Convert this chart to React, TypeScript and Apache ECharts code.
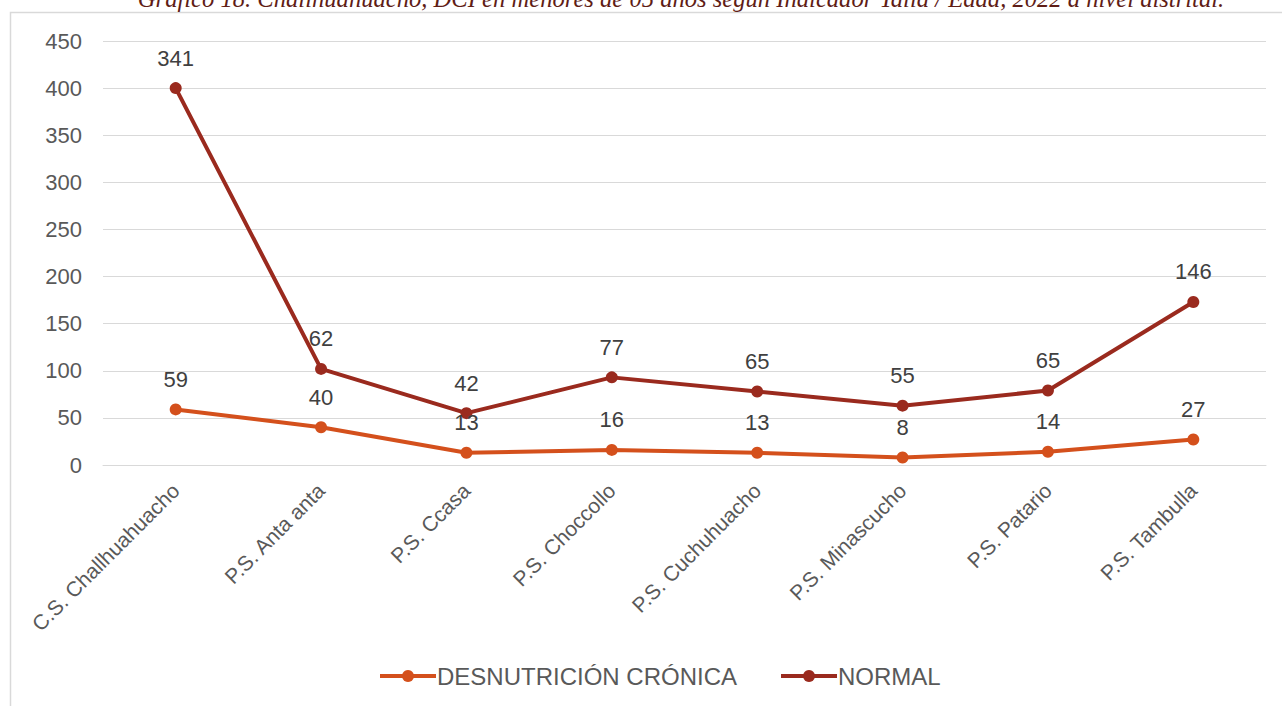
import React, { useEffect, useRef } from "react";
import * as echarts from "echarts";

const categories = [
  "C.S. Challhuahuacho",
  "P.S. Anta anta",
  "P.S. Ccasa",
  "P.S. Choccollo",
  "P.S. Cuchuhuacho",
  "P.S. Minascucho",
  "P.S. Patario",
  "P.S. Tambulla",
];
const desnutricion = [59, 40, 13, 16, 13, 8, 14, 27];
const normal = [341, 62, 42, 77, 65, 55, 65, 146];
const titleText =
  "Gráfico 18. Challhuahuacho, DCI en menores de 05 años según Indicador Talla / Edad, 2022 a nivel distrital.";

export default function App() {
  const ref = useRef<HTMLDivElement>(null);
  useEffect(() => {
    document.body.style.margin = "0";
    const chart = echarts.init(ref.current!, null, { renderer: "svg" });
    const labelStyle = {
      show: true,
      position: "top" as const,
      distance: 13,
      fontSize: 22,
      color: "#404040",
      fontFamily: "Liberation Sans, Arial, sans-serif",
    };
    chart.setOption({
      animation: false,
      textStyle: { fontFamily: "Liberation Sans, Arial, sans-serif" },
      graphic: [
        {
          type: "rect",
          silent: true,
          z: -10,
          shape: { x: 10.5, y: 12.5, width: 1400, height: 900 },
          style: { fill: "none", stroke: "#d9d9d9", lineWidth: 1.5 },
        },
        {
          type: "text",
          x: 681,
          y: 11,
          style: {
            text: titleText,
            fontSize: 24.6,
            fontStyle: "italic",
            fontFamily: "Liberation Serif, serif",
            fill: "#5f1d16",
            textAlign: "center",
            textVerticalAlign: "bottom",
          },
        },
      ],
      grid: { left: 103, right: 16, top: 41, bottom: 241, containLabel: false },
      legend: {
        bottom: 13,
        left: 373,
        itemWidth: 56,
        itemHeight: 15,
        itemGap: 42,
        lineStyle: { width: 4 },
        textStyle: { fontSize: 24, color: "#595959", padding: [0, 0, 0, -4] },
        data: ["DESNUTRICIÓN CRÓNICA", "NORMAL"],
      },
      xAxis: {
        type: "category",
        data: categories,
        boundaryGap: true,
        axisLine: { show: true, lineStyle: { color: "#d9d9d9", width: 1 } },
        axisTick: { show: false },
        axisLabel: {
          rotate: 45,
          margin: 22,
          fontSize: 21,
          color: "#595959",
          interval: 0,
        },
      },
      yAxis: {
        type: "value",
        min: 0,
        max: 450,
        interval: 50,
        axisLine: { show: false },
        axisTick: { show: false },
        splitLine: { lineStyle: { color: "#d9d9d9", width: 1 } },
        axisLabel: { fontSize: 22, color: "#595959", margin: 21 },
      },
      series: [
        {
          name: "DESNUTRICIÓN CRÓNICA",
          type: "line",
          stack: "total",
          data: desnutricion,
          symbol: "circle",
          symbolSize: 12,
          lineStyle: { width: 4, color: "#d4501c" },
          itemStyle: { color: "#d4501c" },
          label: labelStyle,
        },
        {
          name: "NORMAL",
          type: "line",
          stack: "total",
          data: normal,
          symbol: "circle",
          symbolSize: 12,
          lineStyle: { width: 4, color: "#9a2a1e" },
          itemStyle: { color: "#9a2a1e" },
          label: labelStyle,
        },
      ],
    });
    return () => chart.dispose();
  }, []);
  return <div ref={ref} style={{ width: 1282, height: 706 }} />;
}
